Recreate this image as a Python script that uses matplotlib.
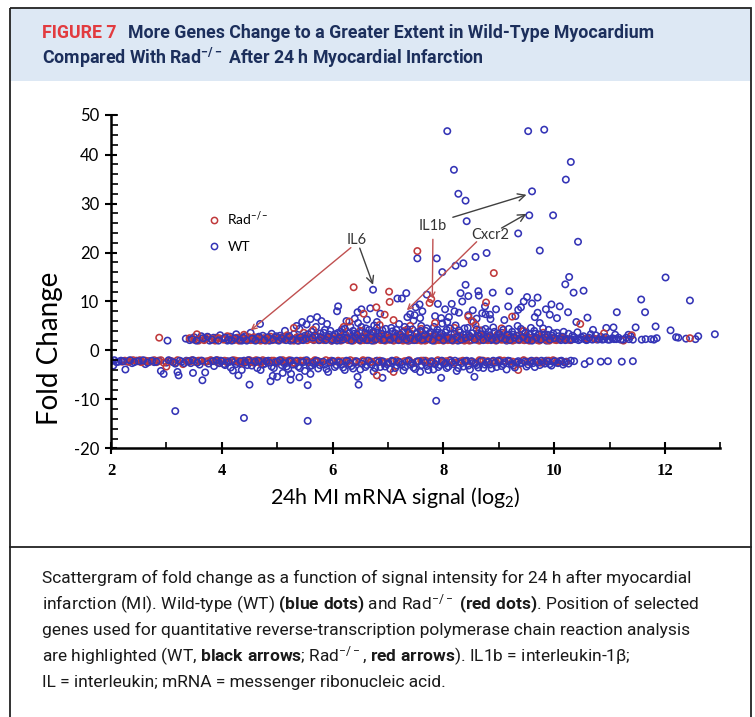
import numpy as np
import matplotlib
matplotlib.use("Agg")
import matplotlib.pyplot as plt
import matplotlib.ticker as mticker
from matplotlib.patches import Rectangle
from matplotlib.lines import Line2D

plt.rcParams.update({
    "font.family": ["Roboto", "DejaVu Sans"],
    "mathtext.fontset": "custom",
    "mathtext.rm": "Roboto",
    "mathtext.it": "Roboto:italic",
    "mathtext.bf": "Roboto:bold",
})

# ── Data (x = log2 signal, y = fold change) ──────────────────────────────────
# WT, large positive changes
wt_high = [
    (8.07, 44.8), (9.53, 44.8), (9.82, 45.1), (8.19, 36.9), (8.27, 32.0), (8.40, 30.6),
    (8.42, 26.4), (9.60, 32.5), (9.55, 27.6), (9.98, 27.6), (10.30, 38.5), (10.21, 34.9),
    (9.35, 23.9), (9.74, 20.4), (10.43, 22.2), (7.53, 18.8), (7.88, 18.8), (7.98, 16.0),
    (8.22, 17.3), (8.36, 17.8), (8.58, 19.1), (8.78, 19.9), (10.27, 15.0), (10.20, 13.5),
    (12.01, 14.9), (6.73, 12.4), (8.40, 13.4), (9.19, 12.1), (8.63, 12.1), (8.64, 11.2),
    (8.31, 11.7), (8.45, 11.1), (8.89, 11.8), (10.53, 12.2), (10.35, 11.8), (7.33, 11.7),
    (7.25, 10.6), (7.17, 10.6), (11.57, 10.4), (12.45, 10.2), (9.51, 10.9), (9.70, 10.8),
]
# WT, moderate positive changes (scattered above the band)
wt_mid = [
    (4.69, 5.4), (6.10, 9.0), (6.08, 8.0), (6.52, 8.4), (6.68, 8.6), (6.45, 7.8), (6.86, 7.5),
    (7.48, 7.2), (7.50, 8.8), (7.57, 9.4), (7.70, 11.4), (7.90, 9.5), (8.03, 8.4), (8.15, 9.5),
    (8.28, 7.7), (8.34, 10.0), (8.53, 8.2), (8.84, 7.3), (8.76, 7.4), (9.17, 9.0), (9.35, 8.3),
    (8.07, 5.8), (7.96, 6.6), (9.60, 9.6), (10.10, 9.0), (10.25, 7.8), (9.85, 8.4), (9.92, 7.3),
    (9.70, 7.7), (11.64, 7.8), (11.13, 7.8), (10.60, 6.7), (11.83, 4.9), (12.10, 4.1),
    (12.90, 3.3), (12.20, 2.7), (12.38, 2.4), (12.60, 2.9), (11.58, 2.2), (11.65, 2.3),
    (11.75, 2.3), (11.38, 2.9), (11.47, 4.7), (11.07, 4.7), (11.10, 3.2), (5.45, 5.8),
    (5.60, 6.4), (5.72, 6.8), (5.80, 6.0), (5.35, 5.0), (5.90, 5.4), (6.25, 6.0), (6.40, 6.5),
    (6.80, 5.8), (6.62, 6.3), (7.35, 6.8), (7.58, 6.6), (7.85, 7.0), (8.60, 6.5), (8.45, 7.2),
    (8.85, 6.4), (8.70, 7.6), (9.10, 6.2), (9.65, 6.8), (9.30, 7.0), (10.05, 6.6), (10.40, 5.8),
    (10.70, 4.2), (10.94, 4.6), (11.34, 3.2), (9.40, 8.8), (8.95, 8.4), (8.20, 8.0), (8.10, 6.8),
    (8.75, 9.0), (9.45, 10.0), (9.95, 9.4), (7.62, 8.0), (7.40, 7.4),
]
# WT, upregulated band (fold change >= 2)
wt_up = [
    (3.02, 2.0), (3.35, 2.4), (3.42, 2.1), (3.50, 2.7), (3.58, 2.2), (3.63, 2.9), (3.70, 2.3),
    (3.78, 2.0), (3.85, 2.6), (3.90, 2.2), (3.97, 3.1), (4.02, 2.4), (4.10, 2.0), (4.15, 2.8),
    (4.20, 2.2), (4.26, 3.3), (4.30, 2.5), (4.36, 2.0), (4.42, 2.9), (4.48, 2.3), (4.52, 3.6),
    (4.58, 2.1), (4.63, 2.6), (4.70, 2.2), (4.74, 3.0), (4.80, 2.4), (4.86, 2.0), (4.90, 3.4),
    (4.95, 2.6), (5.00, 2.2), (5.05, 3.0), (5.10, 2.3), (5.14, 4.0), (5.20, 2.6), (5.24, 2.0),
    (5.30, 3.3), (5.34, 2.5), (5.40, 4.4), (5.44, 2.2), (5.50, 3.0), (5.53, 5.3), (5.58, 2.4),
    (5.62, 3.8), (5.66, 2.1), (5.70, 4.8), (5.74, 2.8), (5.78, 3.5), (5.82, 2.3), (5.86, 4.2),
    (5.90, 2.6), (5.94, 3.2), (5.98, 2.0), (6.02, 2.9), (6.06, 2.3), (6.10, 3.6), (6.13, 2.1),
    (6.17, 4.3), (6.20, 2.6), (6.24, 3.1), (6.28, 2.2), (6.32, 4.9), (6.35, 2.8), (6.39, 3.4),
    (6.42, 2.4), (6.46, 5.6), (6.50, 2.1), (6.53, 3.9), (6.57, 2.7), (6.60, 4.5), (6.64, 2.3),
    (6.68, 3.3), (6.71, 2.0), (6.75, 5.1), (6.78, 2.9), (6.82, 3.7), (6.86, 2.4), (6.90, 4.1),
    (6.94, 2.2), (6.98, 3.0), (7.02, 2.5), (7.06, 4.6), (7.10, 2.1), (7.13, 3.5), (7.17, 2.8),
    (7.20, 5.4), (7.24, 2.3), (7.28, 3.9), (7.31, 2.6), (7.35, 4.3), (7.38, 2.0), (7.42, 3.2),
    (7.46, 6.1), (7.50, 2.4), (7.53, 3.7), (7.57, 2.9), (7.60, 5.0), (7.64, 2.2), (7.68, 4.0),
    (7.72, 2.7), (7.75, 3.4), (7.79, 2.1), (7.83, 4.8), (7.87, 2.5), (7.90, 3.6), (7.94, 2.3),
    (7.98, 5.5), (8.02, 2.8), (8.06, 4.2), (8.10, 2.2), (8.14, 3.3), (8.18, 2.5), (8.22, 5.1),
    (8.26, 2.0), (8.30, 3.7), (8.34, 2.7), (8.38, 4.5), (8.42, 2.3), (8.46, 3.1), (8.50, 2.1),
    (8.54, 5.8), (8.58, 2.6), (8.62, 3.5), (8.66, 2.2), (8.70, 4.1), (8.74, 2.9), (8.78, 2.4),
    (8.82, 3.8), (8.86, 2.1), (8.90, 4.7), (8.94, 2.7), (8.98, 3.2), (9.02, 2.3), (9.06, 3.6),
    (9.10, 2.6), (9.14, 2.0), (9.18, 4.4), (9.22, 2.8), (9.26, 3.2), (9.30, 2.2), (9.34, 5.0),
    (9.38, 2.5), (9.42, 3.9), (9.46, 2.1), (9.50, 3.0), (9.54, 2.4), (9.58, 4.6), (9.62, 2.7),
    (9.66, 3.4), (9.70, 2.2), (9.74, 5.6), (9.78, 2.5), (9.82, 3.1), (9.86, 2.0), (9.90, 4.2),
    (9.94, 2.6), (9.98, 3.5), (10.03, 2.3), (10.08, 2.9), (10.12, 2.1), (10.17, 3.8),
    (10.22, 2.4), (10.28, 2.2), (10.33, 3.0), (10.38, 2.3), (10.44, 2.1), (10.50, 2.6),
    (10.55, 2.3), (10.60, 2.2), (10.66, 3.3), (10.72, 2.4), (10.78, 2.2), (10.84, 2.8),
    (10.90, 2.3), (10.97, 2.2), (11.05, 2.5), (11.12, 2.3), (11.20, 2.2), (11.30, 2.6),
    (11.80, 2.2), (11.85, 2.5), (12.24, 2.6), (12.55, 2.3),
]
wt_up_more = [
    (3.46, 2.3), (3.54, 2.0), (3.66, 2.5), (3.74, 2.8), (3.82, 2.2), (3.94, 2.0), (4.06, 2.6),
    (4.12, 2.2), (4.18, 2.0), (4.24, 2.5), (4.33, 2.1), (4.39, 2.6), (4.45, 2.0), (4.55, 2.4),
    (4.61, 2.0), (4.67, 2.8), (4.77, 2.1), (4.83, 2.7), (4.93, 2.2), (4.98, 2.9), (5.03, 2.0),
    (5.08, 2.5), (5.16, 2.1), (5.22, 2.9), (5.28, 2.2), (5.37, 2.0), (5.42, 2.7), (5.47, 2.1),
    (5.52, 2.4), (5.56, 3.3), (5.64, 2.6), (5.68, 3.1), (5.76, 2.1), (5.80, 2.7), (5.84, 3.6),
    (5.88, 2.1), (5.92, 2.8), (5.96, 4.0), (6.00, 2.2), (6.04, 3.3), (6.08, 2.0), (6.12, 2.6),
    (6.15, 3.8), (6.19, 2.2), (6.22, 4.4), (6.26, 2.6), (6.30, 3.5), (6.34, 2.0), (6.37, 4.0),
    (6.41, 2.7), (6.44, 3.3), (6.48, 2.2), (6.52, 4.8), (6.55, 2.5), (6.59, 3.6), (6.62, 2.1),
    (6.66, 4.2), (6.70, 2.7), (6.73, 3.8), (6.77, 2.2), (6.80, 4.6), (6.84, 2.9), (6.88, 3.4),
    (6.92, 2.1), (6.96, 4.4), (7.00, 3.1), (7.04, 2.2), (7.08, 3.9), (7.11, 2.6), (7.15, 4.2),
    (7.19, 2.1), (7.22, 3.3), (7.26, 2.7), (7.30, 4.8), (7.33, 2.2), (7.37, 3.6), (7.40, 2.5),
    (7.44, 4.3), (7.48, 2.1), (7.51, 3.4), (7.55, 2.6), (7.59, 4.0), (7.62, 2.2), (7.66, 3.1),
    (7.70, 4.5), (7.73, 2.4), (7.77, 3.7), (7.81, 2.0), (7.85, 3.3), (7.89, 4.2), (7.92, 2.7),
    (7.96, 3.5), (8.00, 2.1), (8.04, 3.7), (8.08, 2.6), (8.12, 4.5), (8.16, 2.1), (8.20, 3.4),
    (8.24, 2.7), (8.28, 4.1), (8.32, 2.2), (8.36, 3.2), (8.40, 2.6), (8.44, 4.6), (8.48, 2.8),
    (8.52, 3.5), (8.56, 2.2), (8.60, 4.3), (8.64, 2.9), (8.68, 3.3), (8.72, 2.1), (8.76, 4.4),
    (8.80, 2.7), (8.84, 3.1), (8.88, 2.3), (8.92, 3.8), (8.96, 2.1), (9.00, 3.4), (9.04, 2.7),
    (9.08, 4.2), (9.12, 2.3), (9.16, 3.1), (9.20, 2.1), (9.24, 3.8), (9.28, 2.6), (9.32, 3.0),
    (9.36, 2.2), (9.40, 4.4), (9.44, 2.7), (9.48, 3.6), (9.52, 2.2), (9.56, 3.2), (9.60, 2.0),
    (9.64, 4.0), (9.68, 2.6), (9.72, 3.3), (9.76, 2.2), (9.80, 4.5), (9.84, 2.7), (9.88, 3.2),
    (9.92, 2.2), (9.96, 3.0), (10.00, 2.5), (10.05, 3.6), (10.10, 2.3), (10.15, 2.8),
    (10.20, 2.1), (10.26, 3.4), (10.31, 2.2), (10.36, 2.7), (10.42, 3.7), (10.47, 2.3),
    (10.53, 2.9), (10.58, 2.1), (10.63, 2.6), (10.69, 2.2), (10.75, 3.1), (10.81, 2.3),
    (10.87, 2.2), (10.93, 2.7), (11.00, 2.2), (11.08, 2.3), (11.16, 2.6), (11.24, 2.2),
    (11.35, 2.3), (11.42, 2.2),
]
# WT, downregulated band (fold change <= -2)
wt_down = [
    (2.00, -2.2), (2.04, -3.1), (2.10, -2.4), (2.18, -2.1), (2.26, -3.9), (2.30, -2.3),
    (2.38, -2.6), (2.46, -2.1), (2.54, -2.3), (2.62, -2.8), (2.70, -2.2), (2.78, -2.4),
    (2.86, -2.1), (2.90, -4.2), (2.95, -4.8), (3.00, -2.5), (3.08, -2.2), (3.16, -2.7),
    (3.20, -4.4), (3.22, -5.1), (3.28, -2.3), (3.36, -2.1), (3.44, -2.6), (3.48, -4.6),
    (3.52, -2.2), (3.60, -2.9), (3.65, -6.1), (3.70, -4.5), (3.72, -2.3), (3.80, -2.1),
    (3.86, -3.2), (3.92, -2.4), (3.98, -2.1), (4.04, -2.8), (4.10, -2.2), (4.16, -3.5),
    (4.20, -4.1), (4.24, -2.3), (4.30, -5.1), (4.32, -2.6), (4.36, -4.0), (4.40, -2.1),
    (4.46, -3.0), (4.50, -7.0), (4.52, -2.4), (4.58, -2.2), (4.64, -3.6), (4.70, -4.0),
    (4.72, -2.3), (4.78, -2.7), (4.84, -2.1), (4.88, -6.3), (4.90, -3.3), (4.92, -5.2),
    (4.96, -2.4), (5.00, -5.4), (5.02, -2.2), (5.08, -3.0), (5.10, -4.6), (5.14, -2.3),
    (5.20, -3.8), (5.24, -6.0), (5.25, -4.8), (5.26, -2.1), (5.32, -2.7), (5.38, -3.3),
    (5.40, -5.5), (5.44, -2.2), (5.50, -4.2), (5.55, -7.1), (5.56, -2.5), (5.60, -4.8),
    (5.62, -3.1), (5.68, -2.2), (5.74, -3.7), (5.80, -2.4), (5.86, -2.9), (5.92, -4.4),
    (5.98, -2.1), (6.04, -3.4), (6.10, -2.3), (6.16, -2.8), (6.22, -4.0), (6.28, -2.2),
    (6.34, -3.2), (6.40, -2.5), (6.45, -5.4), (6.47, -7.0), (6.50, -3.9), (6.56, -2.2),
    (6.62, -3.0), (6.68, -2.4), (6.74, -4.3), (6.80, -2.1), (6.86, -3.4), (6.90, -5.6),
    (6.92, -2.3), (6.98, -2.8), (7.04, -3.8), (7.10, -2.2), (7.16, -3.1), (7.22, -2.5),
    (7.28, -4.1), (7.34, -2.2), (7.40, -2.9), (7.46, -3.5), (7.52, -2.3), (7.58, -4.4),
    (7.64, -2.1), (7.70, -3.2), (7.76, -2.6), (7.82, -3.9), (7.88, -2.2), (7.94, -3.0),
    (7.96, -5.6), (8.00, -2.4), (8.06, -3.6), (8.12, -2.1), (8.18, -2.8), (8.24, -4.2),
    (8.30, -2.3), (8.36, -3.3), (8.42, -2.1), (8.48, -3.9), (8.54, -2.5), (8.56, -5.4),
    (8.60, -3.0), (8.66, -2.2), (8.72, -3.6), (8.78, -2.4), (8.84, -2.9), (8.90, -2.1),
    (8.96, -3.4), (9.02, -2.3), (9.08, -2.8), (9.14, -3.9), (9.20, -2.2), (9.26, -3.1),
    (9.32, -2.4), (9.38, -2.7), (9.44, -2.1), (9.50, -3.3), (9.56, -2.3), (9.62, -2.6),
    (9.68, -2.2), (9.74, -3.0), (9.80, -2.4), (9.86, -2.1), (9.92, -2.8), (9.98, -2.3),
    (10.04, -2.5), (10.10, -2.2), (10.16, -2.9), (10.22, -2.3), (10.30, -2.1), (10.36, -2.2),
    (10.55, -2.8), (10.64, -2.2), (10.84, -2.3), (10.97, -2.2), (11.22, -2.3), (11.42, -2.2),
]
wt_down_more = [
    (2.06, -2.0), (2.14, -2.3), (2.22, -2.2), (2.34, -2.0), (2.42, -2.4), (2.50, -2.2),
    (2.58, -2.0), (2.66, -2.5), (2.74, -2.1), (2.82, -2.3), (3.04, -2.0), (3.12, -2.4),
    (3.24, -2.1), (3.32, -2.6), (3.40, -2.2), (3.48, -2.0), (3.56, -2.5), (3.64, -2.1),
    (3.76, -2.7), (3.84, -2.2), (3.90, -2.0), (3.95, -2.6), (4.00, -2.2), (4.06, -3.0),
    (4.12, -2.4), (4.18, -2.1), (4.26, -2.8), (4.34, -2.2), (4.42, -2.5), (4.48, -2.0),
    (4.54, -3.1), (4.60, -2.3), (4.66, -2.1), (4.74, -2.9), (4.80, -2.2), (4.86, -2.5),
    (4.94, -3.6), (5.00, -2.3), (5.05, -2.0), (5.12, -2.6), (5.17, -3.3), (5.22, -2.2),
    (5.29, -2.9), (5.35, -2.1), (5.41, -3.6), (5.47, -2.4), (5.53, -2.0), (5.59, -3.2),
    (5.65, -2.6), (5.71, -2.1), (5.77, -3.0), (5.83, -2.3), (5.89, -3.8), (5.95, -2.5),
    (6.01, -2.2), (6.07, -3.0), (6.13, -2.4), (6.19, -3.5), (6.25, -2.1), (6.31, -2.7),
    (6.37, -3.7), (6.43, -2.2), (6.53, -2.7), (6.59, -3.4), (6.65, -2.1), (6.71, -2.9),
    (6.77, -3.6), (6.83, -2.4), (6.89, -2.2), (6.95, -3.3), (7.01, -2.6), (7.07, -2.1),
    (7.13, -3.6), (7.19, -2.3), (7.25, -2.9), (7.31, -3.4), (7.37, -2.1), (7.43, -2.6),
    (7.49, -3.8), (7.55, -2.2), (7.61, -3.0), (7.67, -2.5), (7.73, -4.0), (7.79, -2.2),
    (7.85, -2.8), (7.91, -3.4), (7.97, -2.1), (8.03, -2.7), (8.09, -3.3), (8.15, -2.4),
    (8.21, -2.1), (8.27, -3.6), (8.33, -2.6), (8.39, -2.2), (8.45, -3.1), (8.51, -2.2),
    (8.57, -2.7), (8.63, -3.5), (8.69, -2.1), (8.75, -2.9), (8.81, -2.3), (8.87, -3.7),
    (8.93, -2.5), (8.99, -2.1), (9.05, -3.2), (9.11, -2.4), (9.17, -2.1), (9.23, -2.8),
    (9.29, -3.5), (9.35, -2.2), (9.41, -2.6), (9.47, -2.3), (9.53, -2.9), (9.59, -2.1),
    (9.65, -3.4), (9.71, -2.4), (9.77, -2.1), (9.83, -2.7), (9.89, -2.3), (9.95, -3.1),
    (10.01, -2.2), (10.07, -2.6), (10.13, -2.1), (10.19, -2.5), (10.26, -2.7),
]
wt_low = [(3.16, -12.4), (4.40, -13.8), (5.55, -14.4), (7.87, -10.3)]

# Rad-/-
rad_high = [
    (7.53, 20.3), (8.91, 15.8), (6.38, 12.9), (7.02, 12.0), (7.03, 9.9), (8.77, 9.8),
    (7.75, 9.7), (7.78, 10.5), (6.79, 8.8), (6.56, 7.5), (6.94, 7.3), (9.24, 6.9), (8.45, 6.9),
    (8.51, 6.0), (10.47, 5.4),
]
rad_up = [
    (2.87, 2.6), (3.42, 2.5), (3.50, 2.2), (3.55, 3.3), (3.62, 2.4), (3.68, 2.1), (3.75, 2.7),
    (3.82, 2.3), (3.88, 2.0), (3.95, 2.5), (4.03, 2.2), (4.10, 2.9), (4.16, 2.3), (4.22, 2.1),
    (4.28, 2.6), (4.34, 2.2), (4.40, 3.2), (4.46, 2.4), (4.52, 2.1), (4.58, 2.7), (4.64, 2.3),
    (4.70, 2.0), (4.76, 2.5), (4.82, 2.2), (4.88, 2.8), (4.94, 2.3), (5.00, 2.1), (5.06, 2.6),
    (5.12, 2.2), (5.18, 3.1), (5.24, 2.4), (5.30, 2.0), (5.36, 2.7), (5.42, 2.3), (5.48, 3.6),
    (5.54, 2.1), (5.60, 2.5), (5.66, 2.2), (5.72, 2.9), (5.78, 2.3), (5.84, 2.1), (5.90, 2.6),
    (5.96, 2.2), (5.30, 4.6), (5.65, 4.2), (6.02, 2.4), (6.07, 2.1), (6.12, 2.8), (6.17, 2.3),
    (6.22, 3.3), (6.27, 2.2), (6.32, 2.6), (6.37, 2.0), (6.42, 3.0), (6.47, 2.3), (6.52, 2.5),
    (6.57, 2.1), (6.62, 2.9), (6.67, 2.3), (6.72, 3.5), (6.77, 2.2), (6.82, 2.6), (6.87, 2.1),
    (6.92, 3.1), (6.97, 2.4), (6.20, 4.8), (6.50, 4.0), (6.85, 5.2), (6.30, 5.9), (7.02, 2.2),
    (7.07, 2.7), (7.12, 2.1), (7.17, 3.2), (7.22, 2.4), (7.27, 2.0), (7.32, 2.6), (7.37, 2.2),
    (7.42, 3.4), (7.47, 2.3), (7.52, 2.1), (7.57, 2.8), (7.62, 2.3), (7.67, 2.0), (7.72, 2.6),
    (7.77, 2.2), (7.82, 3.0), (7.87, 2.3), (7.92, 2.1), (7.97, 2.7), (7.10, 6.2), (7.40, 5.0),
    (7.60, 4.4), (7.85, 5.6), (7.30, 4.0), (8.02, 2.3), (8.08, 2.1), (8.14, 2.6), (8.20, 2.2),
    (8.26, 3.1), (8.32, 2.4), (8.38, 2.0), (8.44, 2.7), (8.50, 2.2), (8.56, 2.5), (8.62, 2.1),
    (8.68, 2.9), (8.74, 2.3), (8.80, 2.1), (8.86, 2.6), (8.92, 2.2), (8.98, 3.3), (8.20, 4.6),
    (8.65, 4.1), (8.58, 5.2), (9.04, 2.2), (9.10, 2.7), (9.16, 2.1), (9.22, 2.5), (9.28, 2.2),
    (9.34, 3.0), (9.40, 2.3), (9.46, 2.1), (9.52, 2.6), (9.58, 2.2), (9.64, 2.4), (9.70, 2.1),
    (9.76, 2.8), (9.82, 2.3), (9.88, 2.1), (9.94, 2.5), (10.00, 2.2), (10.08, 2.3),
    (10.16, 2.6), (10.25, 2.2), (9.05, 4.5), (9.45, 4.0), (9.80, 3.6), (10.60, 2.5),
    (10.75, 2.3), (10.90, 3.5), (11.25, 2.0), (11.40, 3.1), (12.45, 2.5),
]
rad_up_more = [
    (3.58, 2.0), (3.72, 2.4), (3.90, 2.6), (4.06, 2.5), (4.19, 2.4), (4.31, 2.0), (4.37, 2.5),
    (4.43, 2.2), (4.49, 2.7), (4.55, 2.3), (4.61, 2.1), (4.67, 2.6), (4.73, 2.3), (4.79, 2.0),
    (4.85, 2.5), (4.91, 2.1), (4.97, 2.6), (5.03, 2.3), (5.15, 2.5), (5.27, 2.2), (5.39, 2.0),
    (5.51, 2.7), (5.63, 2.3), (5.75, 2.1), (5.87, 2.4), (5.99, 2.0), (6.05, 2.5), (6.10, 2.2),
    (6.15, 2.0), (6.20, 2.6), (6.25, 2.3), (6.30, 2.1), (6.35, 2.7), (6.40, 2.2), (6.45, 2.5),
    (6.50, 2.0), (6.55, 2.8), (6.60, 2.3), (6.65, 2.1), (6.70, 2.5), (6.75, 2.0), (6.80, 2.3),
    (6.85, 2.7), (6.90, 2.2), (6.95, 2.0), (7.00, 2.6), (7.05, 2.3), (7.10, 2.0), (7.15, 2.5),
    (7.20, 2.2), (7.25, 2.8), (7.30, 2.3), (7.35, 2.0), (7.40, 2.5), (7.45, 2.1), (7.50, 2.7),
    (7.55, 2.3), (7.60, 2.0), (7.65, 2.5), (7.70, 2.2), (7.75, 2.8), (7.80, 2.3), (7.85, 2.0),
    (7.90, 2.6), (7.95, 2.2), (8.00, 2.0), (8.05, 2.5), (8.11, 2.3), (8.17, 2.0), (8.23, 2.7),
    (8.29, 2.1), (8.35, 2.4), (8.41, 2.2), (8.47, 2.0), (8.53, 2.6), (8.59, 2.3), (8.65, 2.0),
    (8.71, 2.5), (8.77, 2.2), (8.83, 2.8), (8.89, 2.3), (8.95, 2.0), (9.01, 2.5), (9.07, 2.2),
    (9.13, 2.8), (9.19, 2.3), (9.25, 2.0), (9.31, 2.5), (9.37, 2.1), (9.43, 2.7), (9.49, 2.3),
    (9.55, 2.0), (9.61, 2.6), (9.67, 2.3), (9.73, 2.0), (9.79, 2.5), (9.85, 2.2), (9.91, 2.0),
    (9.97, 2.4), (10.04, 2.1), (10.12, 2.6), (10.20, 2.3), (10.30, 2.1),
]
rad_down = [
    (2.25, -2.1), (2.32, -2.3), (2.40, -2.0), (2.48, -2.2), (2.55, -2.4), (2.62, -2.1),
    (2.70, -2.3), (2.78, -2.0), (2.86, -2.2), (2.95, -2.5), (3.00, -3.3), (3.05, -2.1),
    (3.12, -2.3), (3.20, -2.0), (3.30, -2.8), (3.38, -2.2), (3.46, -2.0), (3.54, -2.4),
    (3.62, -2.1), (3.70, -2.3), (3.80, -2.0), (3.88, -2.2), (3.96, -2.6), (4.05, -2.1),
    (4.13, -2.3), (4.21, -2.0), (4.30, -2.2), (4.38, -2.5), (4.46, -2.1), (4.54, -2.3),
    (4.62, -2.0), (4.70, -2.6), (4.78, -2.2), (4.86, -2.4), (4.94, -2.1), (5.02, -2.3),
    (5.10, -2.0), (5.18, -2.2), (5.30, -2.5), (5.42, -2.1), (5.55, -2.3), (5.68, -2.0),
    (5.80, -2.4), (5.95, -2.2), (6.10, -2.1), (6.25, -2.5), (6.40, -2.2), (6.55, -2.0),
    (6.70, -2.3), (6.80, -5.1), (6.85, -2.1), (7.00, -2.4), (7.10, -4.4), (7.15, -2.0),
    (7.30, -2.2), (7.45, -2.6), (7.60, -2.1), (7.75, -2.3), (7.90, -2.0), (8.05, -2.2),
    (8.20, -2.5), (8.35, -2.1), (8.50, -2.3), (8.65, -2.0), (8.80, -2.2), (8.95, -2.4),
    (9.10, -2.1), (9.25, -2.3), (9.35, -4.0), (9.45, -2.0), (9.60, -2.2), (9.75, -2.5),
    (9.90, -2.1), (10.05, -2.3), (10.20, -2.4),
]
rad_down_more = [
    (2.20, -2.3), (2.36, -2.1), (2.52, -2.0), (2.66, -2.2), (2.82, -2.4), (2.90, -2.0),
    (3.08, -2.2), (3.16, -2.5), (3.42, -2.3), (3.58, -2.1), (3.75, -2.2), (3.92, -2.0),
    (4.09, -2.4), (4.25, -2.1), (4.42, -2.3), (4.50, -2.0), (4.58, -2.5), (4.66, -2.2),
    (4.74, -2.0), (4.82, -2.3), (4.90, -2.1), (4.98, -2.6), (5.06, -2.2), (5.14, -2.4),
    (5.22, -2.0), (5.36, -2.3), (5.48, -2.1), (5.62, -2.4), (5.74, -2.2), (5.88, -2.0),
    (6.02, -2.3), (6.18, -2.2), (6.32, -2.0), (6.48, -2.4), (6.62, -2.1), (6.78, -2.2),
    (6.92, -2.6), (7.08, -2.2), (7.22, -2.4), (7.38, -2.0), (7.52, -2.3), (7.68, -2.1),
    (7.82, -2.4), (7.98, -2.2), (8.12, -2.0), (8.28, -2.3), (8.42, -2.2), (8.58, -2.5),
    (8.72, -2.1), (8.88, -2.3), (9.02, -2.0), (9.18, -2.2), (9.32, -2.5), (9.52, -2.3),
    (9.68, -2.1), (9.82, -2.3), (9.98, -2.0), (10.12, -2.2),
]

# labelled genes: text position, WT (black) arrow and Rad-/- (red) arrow
gene_names = ["IL6", "IL1b", "Cxcr2"]
gene_text_xy = [(6.43, 22.5), (7.8, 25.4), (8.85, 23.6)]
wt_arrow_from = [(6.49, 20.9), (8.17, 27.2), (9.05, 25.0)]
wt_arrow_to = [(6.73, 13.4), (9.5, 31.8), (9.5, 27.9)]
rad_arrow_from = [(6.33, 21.0), (7.81, 22.7), (8.6, 22.2)]
rad_arrow_to = [(4.52, 4.1), (7.8, 10.6), (7.34, 8.2)]

x_ticks = [2, 4, 6, 8, 10, 12]
y_ticks = [-20, -10, 0, 10, 20, 30, 40]
y_top_label = "50"
Y_TOP = 48.2          # the drawn axis ends slightly below the "50" mark
X_MAX = 13

BLUE = "#3434b6"
RED = "#c0393b"
NAVY = "#1c2f5c"

# ── Figure frame ─────────────────────────────────────────────────────────────
W, H = 755, 717
fig = plt.figure(figsize=(W / 100, H / 100), dpi=100)
bg = fig.add_axes([0, 0, 1, 1])
bg.set_xlim(0, W)
bg.set_ylim(H, 0)
bg.axis("off")

bg.add_patch(Rectangle((10, 8), 741, 73, facecolor="#dde8f4", edgecolor="none"))
bg.add_patch(Rectangle((10, 8), 741, 720, fill=False, edgecolor="#222222", lw=1.3))
bg.plot([10, 751], [547, 547], color="#222222", lw=1.3)

t1 = bg.text(42, 33, "FIGURE 7", color="#e23b3f", fontsize=12.8,
             fontweight="bold", va="center", ha="left")
bg.annotate("More Genes Change to a Greater Extent in Wild-Type Myocardium",
            xy=(1, 0.5), xycoords=t1, xytext=(8, 0), textcoords="offset points",
            color=NAVY, fontsize=12.8, fontweight="bold", va="center", ha="left")
bg.text(42, 58, r"Compared With Rad$^{\mathbf{-/-}}$ After 24 h Myocardial Infarction",
        color=NAVY, fontsize=12.8, fontweight="bold", va="center", ha="left")

caption = [
    "Scattergram of fold change as a function of signal intensity for 24 h after myocardial",
    r"infarction (MI). Wild-type (WT) $\mathbf{(blue\ dots)}$ and Rad$^{-/-}$ "
    r"$\mathbf{(red\ dots)}$. Position of selected",
    "genes used for quantitative reverse-transcription polymerase chain reaction analysis",
    r"are highlighted (WT, $\mathbf{black\ arrows}$; Rad$^{-/-}$, $\mathbf{red\ arrows}$). "
    "IL1b = interleukin-1β;",
    "IL = interleukin; mRNA = messenger ribonucleic acid.",
]
for i, line in enumerate(caption):
    bg.text(42, 578 + 26 * i, line, fontsize=12.5, color="#1a1a1a", va="center", ha="left")

# ── Scatter panel ────────────────────────────────────────────────────────────
ax = fig.add_axes([111 / W, 1 - 448.3 / H, 609.4 / W, 333.8 / H])
ax.patch.set_alpha(0)

def pts(seq):
    a = np.array(seq)
    return a[:, 0], a[:, 1]

kw = dict(s=21, facecolors="none", linewidths=1.15)
# interleave the two genotypes so neither colour sits wholly on top
layers = [
    (rad_down_more, RED), (rad_up_more, RED),
    (wt_down, BLUE), (wt_up, BLUE), (wt_mid, BLUE),
    (rad_down, RED), (rad_up, RED),
    (wt_down_more, BLUE), (wt_up_more, BLUE), (wt_high, BLUE), (wt_low, BLUE),
    (rad_high, RED),
]
for grp, col in layers:
    gx, gy = pts(grp)
    ax.scatter(gx, gy, edgecolors=col, **kw)

for name, txy, a0, a1, r0, r1 in zip(gene_names, gene_text_xy, wt_arrow_from,
                                     wt_arrow_to, rad_arrow_from, rad_arrow_to):
    ax.text(txy[0], txy[1], name, fontsize=10.5, color="#333333", family="Lato",
            ha="center", va="center")
    ax.annotate("", xy=a1, xytext=a0,
                arrowprops=dict(arrowstyle="->", color="#404040", lw=1.0,
                                shrinkA=0, shrinkB=0, mutation_scale=13))
    ax.annotate("", xy=r1, xytext=r0,
                arrowprops=dict(arrowstyle="->", color="#c05050", lw=1.0,
                                shrinkA=0, shrinkB=0, mutation_scale=9))

handles = [
    Line2D([], [], ls="none", marker="o", ms=4.5, mfc="none", mec=RED, mew=1.1),
    Line2D([], [], ls="none", marker="o", ms=4.5, mfc="none", mec=BLUE, mew=1.1),
]
ax.legend(handles, [r"Rad$^{-/-}$", "WT"], loc="upper left",
          bbox_to_anchor=(3.6, 30.2), bbox_transform=ax.transData,
          frameon=False, borderpad=0, handlelength=1.0, handletextpad=0.5,
          labelspacing=0.95, prop={"family": "Lato", "size": 10})

ax.set_xlim(2, X_MAX)
ax.set_ylim(-20, Y_TOP)
for side in ("top", "right"):
    ax.spines[side].set_visible(False)
for side in ("left", "bottom"):
    ax.spines[side].set_linewidth(1.8)

ax.set_yticks(y_ticks + [Y_TOP])
ax.set_yticklabels([str(v) for v in y_ticks] + [y_top_label], family="Lato", fontsize=12)
ax.yaxis.set_minor_locator(mticker.MultipleLocator(2))
ax.set_xticks(x_ticks)
ax.set_xticklabels([str(v) for v in x_ticks], family="Liberation Serif",
                   fontweight="bold", fontsize=12)
ax.xaxis.set_minor_locator(mticker.MultipleLocator(1))
ax.tick_params(axis="both", which="major", direction="inout", length=9, width=1.5,
               color="black")
ax.tick_params(axis="y", which="minor", direction="in", length=5, width=1.2)
ax.tick_params(axis="x", which="minor", direction="in", length=4, width=1.2)
ax.tick_params(axis="y", which="major", pad=4)
ax.tick_params(axis="x", which="major", pad=6)

ax.set_ylabel("Fold Change", family="Lato", fontsize=20, va="center")
ax.yaxis.set_label_coords(-0.1, 0.3)
ax.set_xlabel(r"24h MI mRNA signal (log$_2$)", family="Lato", fontsize=15.5, va="center")
ax.xaxis.set_label_coords(0.466, -0.146)

fig.savefig("out.png", dpi=100)
